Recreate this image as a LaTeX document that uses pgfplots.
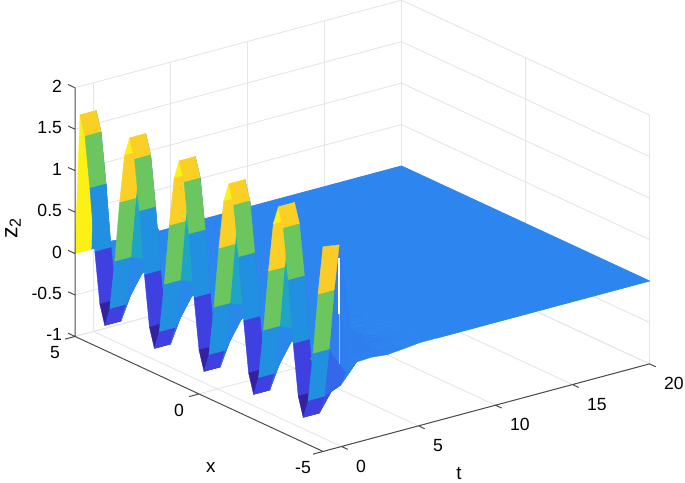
\documentclass[border=0pt]{standalone}
\usepackage{fontspec}
\setmainfont{Liberation Sans}
\usepackage{pgfplots}
\pgfplotsset{compat=1.18}
\pgfplotsset{colormap={zcol}{
  rgb255=(53,32,160) rgb255=(58,46,190) rgb255=(63,60,220) rgb255=(61,74,230) rgb255=(57,89,232)
  rgb255=(53,103,235) rgb255=(49,118,237) rgb255=(45,133,240) rgb255=(35,142,228) rgb255=(32,150,215)
  rgb255=(31,166,200) rgb255=(30,178,185) rgb255=(30,190,170) rgb255=(50,193,150) rgb255=(70,196,125)
  rgb255=(92,198,105) rgb255=(115,198,92) rgb255=(145,197,80) rgb255=(175,196,68) rgb255=(205,195,58)
  rgb255=(235,195,48) rgb255=(250,198,45) rgb255=(251,212,35) rgb255=(252,226,28) rgb255=(253,240,20)}}
\definecolor{axisgray}{gray}{0.3}
\definecolor{gridgray}{gray}{0.9}
\newcommand{\lab}{\fontsize{8.8}{11}\selectfont}
\begin{document}
\begin{tikzpicture}
\useasboundingbox (0,0) rectangle (342.5pt,241pt);
\begin{axis}[at={(108.75pt,87.95pt)},anchor=origin,
  x={(7.7pt,2.065pt)},y={(-12.4pt,5.75pt)},z={(0pt,41.45pt)},
  xmin=-1.2,xmax=20,ymin=-5,ymax=5,zmin=-1,zmax=2,
  xtick={0,5,10,15,20},ytick={-5,0,5},ztick={-1,-0.5,0,0.5,1,1.5,2},
  clip=false,grid=major,grid style={gridgray,line width=0.45pt},
  axis line style={draw=none},tick style={draw=none},
  colormap name=zcol,point meta min=-0.7,point meta max=1.7,
  /pgf/number format/assume math mode=true,
  tick label style={font=\lab},label style={font=\fontsize{9.4}{11}\selectfont},
  xticklabel style={anchor=west,xshift=3.8pt,yshift=-9.75pt},
  yticklabel style={anchor=center,xshift=-10pt,yshift=-8.15pt},
  zticklabel style={anchor=east,xshift=-3pt,yshift=0.8pt},
  xlabel={t},xlabel style={at={(axis cs:2.4,-8.25,-1)},anchor=center},
  ylabel={x},ylabel style={at={(axis cs:-7.27,-4.25,-1)},anchor=center},
  zlabel={z\textsubscript{2}},zlabel style={at={(axis cs:-1.2,7.5,-0.04)},anchor=center,rotate=0,font=\fontsize{11.5}{13}\selectfont},
]
% floor far from the start, all zero
\addplot3[surf,shader=flat corner,mesh/cols=2] coordinates {
(20,-5,0)(6.2,-5,0)
(20,5,0)(6.2,5,0)};
% one line per x value, t falling, so the first corner of a cell is the later t and lower x
\addplot3[surf,shader=flat corner,z buffer=sort,mesh/cols=8,line join=bevel,line width=0.2pt] coordinates {
(6.2,-5,0)(5.1,-5,0)(4.1,-5,-.02)(3,-5,-.04)(1.95,-5,-.02)(.9,-5,-.03)(-.15,-5,1.44)(-1.2,-5,1.47)
(6.2,-4.8,0)(5.1,-4.8,0)(4.1,-4.8,-.01)(3,-4.8,-.02)(1.95,-4.8,.02)(.9,-4.8,-.05)(-.15,-4.8,.87)(-1.2,-4.8,.87)
(6.2,-4.6,0)(5.1,-4.6,-.005)(4.1,-4.6,-.01)(3,-4.6,-.03)(1.95,-4.6,-.05)(.9,-4.6,-.2)(-.15,-4.6,.13)(-1.2,-4.6,.13)
(6.2,-4.4,0)(5.1,-4.4,-.012)(4.1,-4.4,-.02)(3,-4.4,-.05)(1.95,-4.4,-.16)(.9,-4.4,-.39)(-.15,-4.4,-.47)(-1.2,-4.4,-.47)
(6.2,-4.2,0)(5.1,-4.2,-.015)(4.1,-4.2,-.03)(3,-4.2,-.05)(1.95,-4.2,-.18)(.9,-4.2,-.4)(-.15,-4.2,-.7)(-1.2,-4.2,-.7)
(6.2,-4,0)(5.1,-4,-.01)(4.1,-4,-.02)(3,-4,.05)(1.95,-4,.2)(-.1,-4,-.15)(-.15,-4,-.47)(-1.2,-4,-.47)
(6.2,-3.8,0)(5.1,-3.8,-.002)(4.1,-3.8,-.005)(3,-3.8,.04)(1.95,-3.8,.15)(-.1,-3.8,-.1)(-.15,-3.8,.13)(-1.2,-3.8,.13)
(6.2,-3.6,0)(5.1,-3.6,.002)(4.1,-3.6,.005)(3,-3.6,.01)(1.95,-3.6,.01)(-.1,-3.6,-.05)(-.15,-3.6,.87)(-1.2,-3.6,.87)
(6.2,-3.4,0)(5.1,-3.4,.004)(4.1,-3.4,.01)(3,-3.4,.01)(1.95,-3.4,.03)(-.1,-3.4,0)(-.15,-3.4,1.47)(-1.2,-3.4,1.47)
(6.2,-3.2,0)(5.1,-3.2,.005)(4.1,-3.2,.01)(3,-3.2,.02)(1.95,-3.2,.05)(-.1,-3.2,.1)(-.15,-3.2,1.7)(-1.2,-3.2,1.7)
(6.2,-3,0)(5.1,-3,.01)(4.1,-3,.02)(3,-3,.03)(1.95,-3,.1)(.9,-3,.49)(-.15,-3,1.47)(-1.2,-3,1.47)
(6.2,-2.8,0)(5.1,-2.8,.005)(4.1,-2.8,.01)(3,-2.8,.03)(1.95,-2.8,.05)(.9,-2.8,.29)(-.15,-2.8,.87)(-1.2,-2.8,.87)
(6.2,-2.6,0)(5.1,-2.6,-.005)(4.1,-2.6,-.01)(3,-2.6,-.01)(1.95,-2.6,0)(.9,-2.6,.05)(-.15,-2.6,.13)(-1.2,-2.6,.13)
(6.2,-2.4,0)(5.1,-2.4,-.01)(4.1,-2.4,-.02)(3,-2.4,-.04)(1.95,-2.4,-.06)(.9,-2.4,-.15)(-.15,-2.4,-.47)(-1.2,-2.4,-.47)
(6.2,-2.2,0)(5.1,-2.2,-.015)(4.1,-2.2,-.03)(3,-2.2,-.05)(1.95,-2.2,-.08)(.9,-2.2,-.23)(-.15,-2.2,-.7)(-1.2,-2.2,-.7)
(6.2,-2,0)(5.1,-2,-.01)(4.1,-2,-.02)(3,-2,-.04)(1.95,-2,-.05)(-.1,-2,-.15)(-.15,-2,-.47)(-1.2,-2,-.47)
(6.2,-1.8,0)(5.1,-1.8,-.002)(4.1,-1.8,-.005)(3,-1.8,-.01)(1.95,-1.8,-.01)(-.1,-1.8,-.1)(-.15,-1.8,.13)(-1.2,-1.8,.13)
(6.2,-1.6,0)(5.1,-1.6,.002)(4.1,-1.6,.005)(3,-1.6,.01)(1.95,-1.6,.01)(-.1,-1.6,-.05)(-.15,-1.6,.87)(-1.2,-1.6,.87)
(6.2,-1.4,0)(5.1,-1.4,.004)(4.1,-1.4,.01)(3,-1.4,.01)(1.95,-1.4,.03)(-.1,-1.4,0)(-.15,-1.4,1.47)(-1.2,-1.4,1.47)
(6.2,-1.2,0)(5.1,-1.2,.005)(4.1,-1.2,.01)(3,-1.2,.02)(1.95,-1.2,.05)(-.1,-1.2,.1)(-.15,-1.2,1.7)(-1.2,-1.2,1.7)
(6.2,-1,0)(5.1,-1,.01)(4.1,-1,.02)(3,-1,.03)(1.95,-1,.1)(.9,-1,.49)(-.15,-1,1.47)(-1.2,-1,1.47)
(6.2,-.8,0)(5.1,-.8,.005)(4.1,-.8,.01)(3,-.8,.03)(1.95,-.8,.05)(.9,-.8,.29)(-.15,-.8,.87)(-1.2,-.8,.87)
(6.2,-.6,0)(5.1,-.6,-.005)(4.1,-.6,-.01)(3,-.6,-.01)(1.95,-.6,0)(.9,-.6,.05)(-.15,-.6,.13)(-1.2,-.6,.13)
(6.2,-.4,0)(5.1,-.4,-.01)(4.1,-.4,-.02)(3,-.4,-.04)(1.95,-.4,-.06)(.9,-.4,-.15)(-.15,-.4,-.47)(-1.2,-.4,-.47)
(6.2,-.2,0)(5.1,-.2,-.015)(4.1,-.2,-.03)(3,-.2,-.05)(1.95,-.2,-.08)(.9,-.2,-.23)(-.15,-.2,-.7)(-1.2,-.2,-.7)
(6.2,0,0)(5.1,0,-.01)(4.1,0,-.02)(3,0,-.04)(1.95,0,-.05)(-.1,0,-.15)(-.15,0,-.47)(-1.2,0,-.47)
(6.2,.2,0)(5.1,.2,-.002)(4.1,.2,-.005)(3,.2,-.01)(1.95,.2,-.01)(-.1,.2,-.1)(-.15,.2,.13)(-1.2,.2,.13)
(6.2,.4,0)(5.1,.4,.002)(4.1,.4,.005)(3,.4,.01)(1.95,.4,.01)(-.1,.4,-.05)(-.15,.4,.87)(-1.2,.4,.87)
(6.2,.6,0)(5.1,.6,.004)(4.1,.6,.01)(3,.6,.01)(1.95,.6,.03)(-.1,.6,0)(-.15,.6,1.47)(-1.2,.6,1.47)
(6.2,.8,0)(5.1,.8,.005)(4.1,.8,.01)(3,.8,.02)(1.95,.8,.05)(-.1,.8,.1)(-.15,.8,1.7)(-1.2,.8,1.7)
(6.2,1,0)(5.1,1,.01)(4.1,1,.02)(3,1,.03)(1.95,1,.1)(.9,1,.49)(-.15,1,1.47)(-1.2,1,1.47)
(6.2,1.2,0)(5.1,1.2,.005)(4.1,1.2,.01)(3,1.2,.03)(1.95,1.2,.05)(.9,1.2,.29)(-.15,1.2,.87)(-1.2,1.2,.87)
(6.2,1.4,0)(5.1,1.4,-.005)(4.1,1.4,-.01)(3,1.4,-.01)(1.95,1.4,0)(.9,1.4,.05)(-.15,1.4,.13)(-1.2,1.4,.13)
(6.2,1.6,0)(5.1,1.6,-.01)(4.1,1.6,-.02)(3,1.6,-.04)(1.95,1.6,-.06)(.9,1.6,-.15)(-.15,1.6,-.47)(-1.2,1.6,-.47)
(6.2,1.8,0)(5.1,1.8,-.015)(4.1,1.8,-.03)(3,1.8,-.05)(1.95,1.8,-.08)(.9,1.8,-.23)(-.15,1.8,-.7)(-1.2,1.8,-.7)
(6.2,2,0)(5.1,2,-.01)(4.1,2,-.02)(3,2,-.04)(1.95,2,-.05)(-.1,2,-.15)(-.15,2,-.47)(-1.2,2,-.47)
(6.2,2.2,0)(5.1,2.2,-.002)(4.1,2.2,-.005)(3,2.2,-.01)(1.95,2.2,-.01)(-.1,2.2,-.1)(-.15,2.2,.13)(-1.2,2.2,.13)
(6.2,2.4,0)(5.1,2.4,.002)(4.1,2.4,.005)(3,2.4,.01)(1.95,2.4,.01)(-.1,2.4,-.05)(-.15,2.4,.87)(-1.2,2.4,.87)
(6.2,2.6,0)(5.1,2.6,.004)(4.1,2.6,.01)(3,2.6,.01)(1.95,2.6,.03)(-.1,2.6,0)(-.15,2.6,1.47)(-1.2,2.6,1.47)
(6.2,2.8,0)(5.1,2.8,.005)(4.1,2.8,.01)(3,2.8,.02)(1.95,2.8,.05)(-.1,2.8,.1)(-.15,2.8,1.7)(-1.2,2.8,1.7)
(6.2,3,0)(5.1,3,.01)(4.1,3,.02)(3,3,.03)(1.95,3,.1)(.9,3,.49)(-.15,3,1.47)(-1.2,3,1.47)
(6.2,3.2,0)(5.1,3.2,.005)(4.1,3.2,.01)(3,3.2,.03)(1.95,3.2,.05)(.9,3.2,.29)(-.15,3.2,.87)(-1.2,3.2,.87)
(6.2,3.4,0)(5.1,3.4,-.005)(4.1,3.4,-.01)(3,3.4,-.01)(1.95,3.4,0)(.9,3.4,.05)(-.15,3.4,.13)(-1.2,3.4,.13)
(6.2,3.6,0)(5.1,3.6,-.01)(4.1,3.6,-.02)(3,3.6,-.04)(1.95,3.6,-.06)(.9,3.6,-.15)(-.15,3.6,-.47)(-1.2,3.6,-.47)
(6.2,3.8,0)(5.1,3.8,-.015)(4.1,3.8,-.03)(3,3.8,-.05)(1.95,3.8,-.08)(.9,3.8,-.23)(-.15,3.8,-.7)(-1.2,3.8,-.7)
(6.2,4,0)(5.1,4,-.01)(4.1,4,-.02)(3,4,-.04)(1.95,4,-.05)(-.1,4,-.15)(-.15,4,-.47)(-1.2,4,-.47)
(6.2,4.2,0)(5.1,4.2,-.002)(4.1,4.2,-.005)(3,4.2,-.01)(1.95,4.2,-.01)(-.1,4.2,-.1)(-.15,4.2,.13)(-1.2,4.2,.13)
(6.2,4.4,0)(5.1,4.4,.002)(4.1,4.4,.005)(3,4.4,.01)(1.95,4.4,.01)(-.1,4.4,-.05)(-.15,4.4,.87)(-1.2,4.4,.87)
(6.2,4.6,0)(5.1,4.6,.004)(4.1,4.6,.01)(3,4.6,.01)(1.95,4.6,.03)(-.1,4.6,0)(-.15,4.6,1.47)(-1.2,4.6,1.47)
(6.2,4.8,0)(5.1,4.8,.005)(4.1,4.8,.01)(3,4.8,.02)(1.95,4.8,.05)(-.1,4.8,.1)(-.15,4.8,1.7)(-1.2,4.8,1.7)
(6.2,5,0)(5.1,5,0)(4.1,5,0)(3,5,0)(1.95,5,0)(.9,5,0)(-.15,5,0)(-1.2,5,0)
};
% white sliver behind the last ridge
\addplot3[white,line width=0.7pt,forget plot] coordinates {(-.15,-5,1.28)(-.15,-5,0.6)};
\addplot3[white!70!blue,line width=0.35pt,forget plot] coordinates {(-.15,-5,0.6)(-.15,-5,0)};
% axis lines and ticks, matlab style
\addplot3[axisgray,line width=0.5pt,forget plot,unbounded coords=jump] coordinates {
(-1.2,5,-1)(-1.2,5,2)(nan,nan,nan)
(-1.2,5,-1)(-1.2,-5,-1)(20,-5,-1)(nan,nan,nan)
(0,-5,-1)(0,-5.25,-1)(nan,nan,nan)
(5,-5,-1)(5,-5.25,-1)(nan,nan,nan)
(10,-5,-1)(10,-5.25,-1)(nan,nan,nan)
(15,-5,-1)(15,-5.25,-1)(nan,nan,nan)
(20,-5,-1)(20,-5.25,-1)(nan,nan,nan)
(-1.2,5,-1)(-1.85,5,-1)(nan,nan,nan)
(-1.2,0,-1)(-1.85,0,-1)(nan,nan,nan)
(-1.2,-5,-1)(-1.85,-5,-1)(nan,nan,nan)
(-1.2,5,-1)(-1.2,5.28,-1)(nan,nan,nan)
(-1.2,5,-.5)(-1.2,5.28,-.5)(nan,nan,nan)
(-1.2,5,0)(-1.2,5.28,0)(nan,nan,nan)
(-1.2,5,.5)(-1.2,5.28,.5)(nan,nan,nan)
(-1.2,5,1)(-1.2,5.28,1)(nan,nan,nan)
(-1.2,5,1.5)(-1.2,5.28,1.5)(nan,nan,nan)
(-1.2,5,2)(-1.2,5.28,2)
};
\end{axis}
\end{tikzpicture}
\end{document}
